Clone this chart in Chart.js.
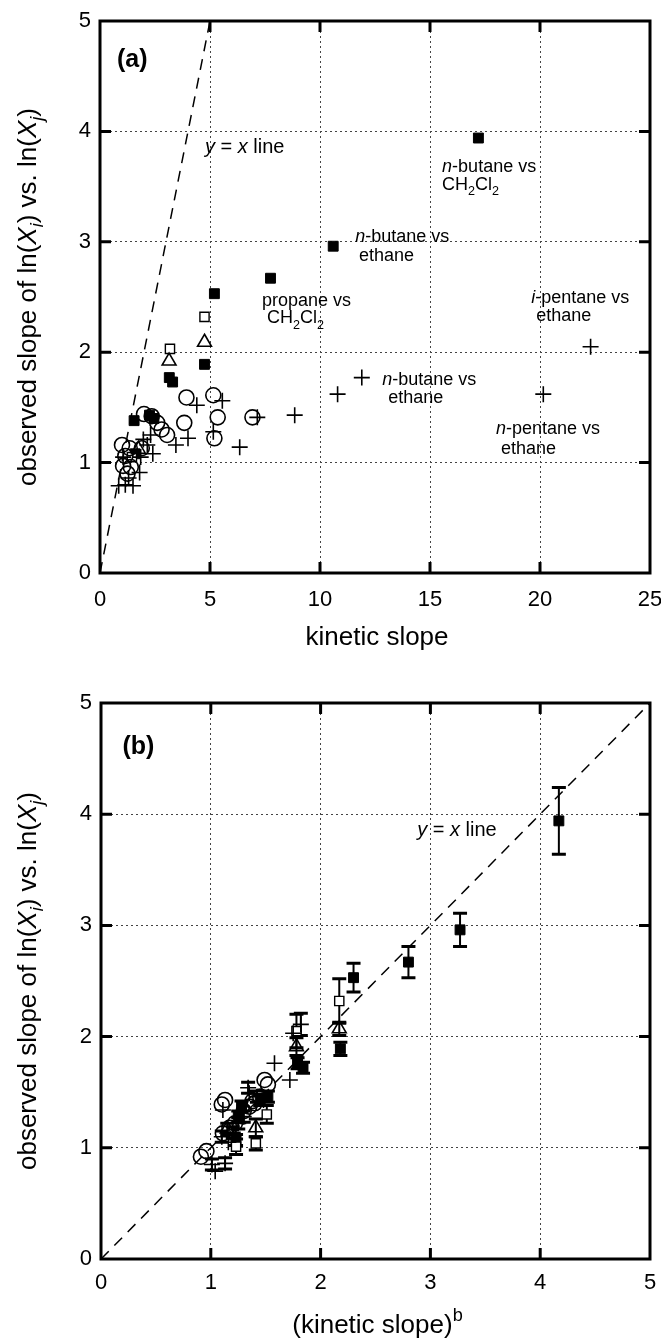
<!DOCTYPE html>
<html><head><meta charset="utf-8">
<script src="https://cdn.jsdelivr.net/npm/chart.js@4.4.1/dist/chart.umd.min.js"></script>
<style>
html,body{margin:0;padding:0;background:#fff;}
#wrap{position:relative;width:661px;height:1340px;background:#fff;}
canvas{position:absolute;left:0;}
#ca{top:0;} #cb{top:670px;}
</style></head><body>
<div id="wrap"><canvas id="ca" width="661" height="670"></canvas><canvas id="cb" width="661" height="670"></canvas></div>
<script>
// ---------- DATA ----------
const yTicks = [0, 1, 2, 3, 4, 5];
const aXTicks = [0, 5, 10, 15, 20, 25];
const bXTicks = [0, 1, 2, 3, 4, 5];
const refLineX = [0, 5];
const refLineY = [0, 5];

// panel (a): kinetic slope vs observed slope
const aSolidX = [17.2, 10.6, 7.75, 5.2, 4.75, 3.15, 3.3, 1.55, 2.25, 2.45, 1.6];
const aSolidY = [3.94, 2.96, 2.67, 2.53, 1.89, 1.77, 1.73, 1.38, 1.43, 1.40, 1.08];
const aOpenSqX = [4.75, 3.18, 1.45];
const aOpenSqY = [2.32, 2.03, 1.05];
const aTriX = [4.75, 3.14, 1.75];
const aTriY = [2.09, 1.92, 1.12];
const aCircX = [3.93, 5.15, 5.35, 5.2, 6.93, 3.83, 2.0, 2.35, 2.6, 2.8, 3.05, 1.0, 1.35, 1.9, 1.05, 1.4, 1.25, 1.15];
const aCircY = [1.59, 1.61, 1.41, 1.22, 1.41, 1.36, 1.44, 1.42, 1.36, 1.30, 1.25, 1.16, 1.13, 1.13, 0.97, 0.96, 0.90, 1.06];
const aPlusX = [22.3, 20.15, 11.9, 10.8, 8.85, 7.15, 6.35, 5.56, 4.4, 5.15, 4.0, 3.45, 1.97, 2.15, 2.4, 1.85, 1.05, 0.85, 1.5, 1.8, 1.3, 1.15, 2.3];
const aPlusY = [2.05, 1.62, 1.77, 1.62, 1.43, 1.41, 1.14, 1.56, 1.52, 1.28, 1.22, 1.16, 1.21, 1.16, 1.08, 1.05, 1.05, 0.79, 0.79, 0.91, 0.86, 0.80, 1.25];

// panel (b): (kinetic slope)^b vs observed slope, with error bars
const bSolidX = [4.17, 3.27, 2.8, 2.3, 2.18, 1.79, 1.84, 1.28, 1.45, 1.52, 1.23, 1.25];
const bSolidY = [3.94, 2.96, 2.67, 2.53, 1.89, 1.76, 1.72, 1.37, 1.43, 1.46, 1.07, 1.28];
const bSolidErr = [0.30, 0.15, 0.14, 0.13, 0.06, 0.05, 0.05, 0.05, 0.05, 0.05, 0.05, 0.05];
const bOpenSqX = [2.17, 1.78, 1.51, 1.41, 1.23];
const bOpenSqY = [2.32, 2.05, 1.30, 1.04, 1.01];
const bOpenSqErr = [0.20, 0.15, 0.08, 0.06, 0.07];
const bTriX = [2.17, 1.78, 1.41, 1.15];
const bTriY = [2.07, 1.91, 1.18, 1.17];
const bTriErr = [0.06, 0.08, 0.08, 0.05];
const bCircX = [1.49, 1.52, 1.45, 1.40, 1.35, 1.10, 1.13, 1.22, 1.17, 1.11, 0.96, 0.91, 1.30, 1.38];
const bCircY = [1.61, 1.57, 1.46, 1.40, 1.37, 1.39, 1.43, 1.22, 1.18, 1.13, 0.97, 0.92, 1.33, 1.42];
const bPlusX = [1.82, 1.75, 1.58, 1.72, 1.34, 1.35, 1.11, 1.01, 1.13, 1.04, 1.25, 1.30, 1.20, 1.42, 1.48, 1.10, 1.16, 1.28];
const bPlusY = [2.11, 2.03, 1.76, 1.61, 1.54, 1.49, 1.34, 0.85, 0.86, 0.79, 1.22, 1.28, 1.14, 1.46, 1.43, 1.10, 1.05, 1.33];
const bPlusErr = [0.10, 0, 0, 0, 0.05, 0, 0, 0.05, 0.05, 0, 0.05, 0.05, 0.05, 0.05, 0.05, 0.05, 0, 0];

// ---------- helpers ----------
const FAM = '"Liberation Sans", Arial, Helvetica, sans-serif';
function pts(xs, ys) { return xs.map((v, i) => ({x: v, y: ys[i]})); }
function fontFor(f, size) {
  const s = (f.includes('d') || f.includes('u')) ? size * 0.7 : size;
  return (f.includes('i') ? 'italic ' : '') + (f.includes('b') ? 'bold ' : '') + s.toFixed(1) + 'px ' + FAM;
}
function drawRich(ctx, segs, x, y, size, align) {
  let w = 0;
  for (const [t, f] of segs) { ctx.font = fontFor(f || '', size); w += ctx.measureText(t).width; }
  let cx = align === 'center' ? x - w / 2 : (align === 'right' ? x - w : x);
  ctx.textAlign = 'left'; ctx.textBaseline = 'alphabetic'; ctx.fillStyle = '#000';
  for (const [t, f0] of segs) {
    const f = f0 || '';
    ctx.font = fontFor(f, size);
    const dy = f.includes('d') ? size * 0.28 : (f.includes('u') ? -size * 0.45 : 0);
    ctx.fillText(t, cx, y + dy);
    cx += ctx.measureText(t).width;
  }
}
const CH2CL2 = [['CH'], ['2', 'd'], ['Cl'], ['2', 'd']];
const NBUT = [['n', 'i'], ['-butane vs']];
const YTITLE = [['observed slope of ln('], ['X', 'i'], ['i', 'id'], [') vs. ln('], ['X', 'i'], ['j', 'id'], [')']];

const framePlugin = {
  id: 'frame',
  beforeDatasetsDraw(chart) {
    const {ctx, scales: {x, y}} = chart;
    ctx.save();
    ctx.beginPath();
    const a = chart.chartArea; ctx.rect(a.left, a.top, a.right - a.left, a.bottom - a.top); ctx.clip();
    ctx.strokeStyle = '#000';
    chart.data.datasets.forEach(ds => {
      if (!ds.errorBars) return;
      ds.data.forEach((p, j) => {
        const e = ds.errorBars[j]; if (!e) return;
        const px = x.getPixelForValue(p.x);
        const y1 = y.getPixelForValue(p.y + e), y2 = y.getPixelForValue(p.y - e);
        ctx.lineWidth = 2; ctx.beginPath(); ctx.moveTo(px, y1); ctx.lineTo(px, y2); ctx.stroke();
        ctx.lineWidth = 3; ctx.beginPath();
        ctx.moveTo(px - 7, y1); ctx.lineTo(px + 7, y1);
        ctx.moveTo(px - 7, y2); ctx.lineTo(px + 7, y2); ctx.stroke();
      });
    });
    ctx.restore();
  },
  afterDraw(chart, args, opts) {
    const {ctx, chartArea: {left, right, top, bottom}, scales: {x, y}} = chart;
    ctx.save();
    ctx.strokeStyle = '#000';
    ctx.lineWidth = 3;
    ctx.strokeRect(left, top, right - left, bottom - top);
    const L = 11;
    ctx.beginPath();
    y.ticks.forEach(t => {
      if (t.value <= y.min || t.value >= y.max) return;
      const py = y.getPixelForValue(t.value);
      ctx.moveTo(left, py); ctx.lineTo(left + L, py);
      ctx.moveTo(right, py); ctx.lineTo(right - L, py);
    });
    x.ticks.forEach(t => {
      if (t.value <= x.min || t.value >= x.max) return;
      const px = x.getPixelForValue(t.value);
      ctx.moveTo(px, bottom); ctx.lineTo(px, bottom - L);
      ctx.moveTo(px, top); ctx.lineTo(px, top + L);
    });
    ctx.stroke();
    // annotations
    (opts.labels || []).forEach(l => {
      drawRich(ctx, l.segs, x.getPixelForValue(l.x), y.getPixelForValue(l.y), l.size || 18, 'left');
    });
    // axis titles
    drawRich(ctx, opts.xTitle, (left + right) / 2 + 2, bottom + opts.xTitleGap, 26, 'center');
    ctx.translate(36, (top + bottom) / 2);
    ctx.rotate(-Math.PI / 2);
    drawRich(ctx, YTITLE, 0, 0, 26, 'center');
    ctx.restore();
  }
};

function makeChart(id, cfg) {
  const markers = [
    {data: pts(cfg.plusX, cfg.plusY), pointStyle: 'cross', pointRadius: 8, borderWidth: 1.6, errorBars: cfg.plusErr},
    {data: pts(cfg.circX, cfg.circY), pointStyle: 'circle', pointRadius: 7.5, borderWidth: 1.6, backgroundColor: 'rgba(0,0,0,0)'},
    {data: pts(cfg.triX, cfg.triY), pointStyle: 'triangle', pointRadius: 8, borderWidth: 1.6, backgroundColor: 'rgba(255,255,255,0)', errorBars: cfg.triErr},
    {data: pts(cfg.osqX, cfg.osqY), pointStyle: 'rect', pointRadius: 6.5, borderWidth: 1.4, backgroundColor: '#fff', errorBars: cfg.osqErr},
    {data: pts(cfg.sqX, cfg.sqY), pointStyle: 'rect', pointRadius: 7, borderWidth: 1, backgroundColor: '#000', errorBars: cfg.sqErr}
  ].map(d => Object.assign({type: 'scatter', borderColor: '#000', pointHoverRadius: d.pointRadius}, d));
  markers.unshift({
    type: 'line', data: pts(refLineX, refLineY), borderColor: '#000', borderWidth: 1.5,
    borderDash: [11, 8], pointRadius: 0, fill: false, tension: 0
  });
  const fixTicks = arr => (s => { s.ticks = arr.map(v => ({value: v})); });
  return new Chart(document.getElementById(id), {
    type: 'scatter',
    data: {datasets: markers},
    plugins: [framePlugin],
    options: {
      responsive: false, animation: false, events: [],
      layout: {padding: {left: 0, right: 11, top: cfg.top, bottom: 0}},
      plugins: {legend: {display: false}, tooltip: {enabled: false},
        frame: {labels: cfg.labels, xTitle: cfg.xTitle, xTitleGap: cfg.xTitleGap}},
      scales: {
        x: {
          type: 'linear', min: 0, max: cfg.xMax,
          afterBuildTicks: fixTicks(cfg.xTicks),
          afterFit: s => { s.height = cfg.xH; s.paddingLeft = 0; s.paddingRight = 0; },
          grid: {color: '#444', lineWidth: 1, drawTicks: false},
          border: {display: false, dash: [2, 3]},
          ticks: {color: '#000', padding: cfg.xPad, font: {family: FAM, size: 22}, maxRotation: 0, autoSkip: false}
        },
        y: {
          type: 'linear', min: 0, max: 5,
          afterBuildTicks: fixTicks(yTicks),
          afterFit: s => { s.width = cfg.yW; s.paddingTop = 0; s.paddingBottom = 0; },
          grid: {color: '#444', lineWidth: 1, drawTicks: false},
          border: {display: false, dash: [2, 3]},
          ticks: {color: '#000', padding: 9, font: {family: FAM, size: 22}, autoSkip: false}
        }
      }
    }
  });
}

makeChart('ca', {
  top: 21, xH: 97, yW: 100, xMax: 25, xTicks: aXTicks, xPad: 14, xTitleGap: 72,
  xTitle: [['kinetic slope']],
  sqX: aSolidX, sqY: aSolidY, osqX: aOpenSqX, osqY: aOpenSqY, triX: aTriX, triY: aTriY,
  circX: aCircX, circY: aCircY, plusX: aPlusX, plusY: aPlusY,
  labels: [
    {x: 0.77, y: 4.58, size: 25, segs: [['(a)', 'b']]},
    {x: 4.77, y: 3.80, size: 20, segs: [['y', 'i'], [' = '], ['x', 'i'], [' line']]},
    {x: 15.55, y: 3.63, segs: NBUT},
    {x: 15.55, y: 3.47, segs: CH2CL2},
    {x: 11.6, y: 2.995, segs: NBUT},
    {x: 11.77, y: 2.83, segs: [['ethane']]},
    {x: 7.36, y: 2.42, segs: [['propane vs']]},
    {x: 7.59, y: 2.26, segs: CH2CL2},
    {x: 19.6, y: 2.445, segs: [['i', 'i'], ['-pentane vs']]},
    {x: 19.83, y: 2.28, segs: [['ethane']]},
    {x: 12.83, y: 1.705, segs: NBUT},
    {x: 13.1, y: 1.54, segs: [['ethane']]},
    {x: 18.0, y: 1.256, segs: [['n', 'i'], ['-pentane vs']]},
    {x: 18.23, y: 1.08, segs: [['ethane']]}
  ]
});

makeChart('cb', {
  top: 33, xH: 81, yW: 101, xMax: 5, xTicks: bXTicks, xPad: 11, xTitleGap: 74,
  xTitle: [['(kinetic slope)'], ['b', 'u']],
  sqX: bSolidX, sqY: bSolidY, sqErr: bSolidErr, osqX: bOpenSqX, osqY: bOpenSqY, osqErr: bOpenSqErr,
  triX: bTriX, triY: bTriY, triErr: bTriErr, circX: bCircX, circY: bCircY,
  plusX: bPlusX, plusY: bPlusY, plusErr: bPlusErr,
  labels: [
    {x: 0.195, y: 4.54, size: 25, segs: [['(b)', 'b']]},
    {x: 2.88, y: 3.80, size: 20, segs: [['y', 'i'], [' = '], ['x', 'i'], [' line']]}
  ]
});
</script>
</body></html>
